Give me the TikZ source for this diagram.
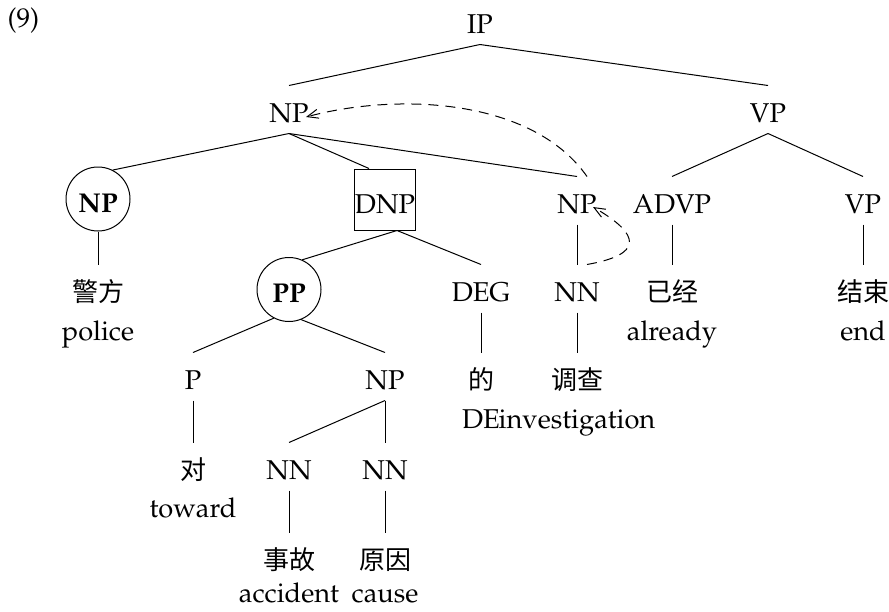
\documentclass[tikz,border=0pt]{standalone}
\usepackage{fontspec}
\newfontfamily\cjk{Noto Sans CJK SC}
\usepackage[T1]{fontenc}
\renewcommand{\rmdefault}{ppl}
\usetikzlibrary{positioning,arrows.meta}

\begin{document}
\begin{tikzpicture}[x=0.5pt,y=-0.5pt,inner sep=0pt,line width=0.5pt,
    font=\fontsize{13.6}{16}\selectfont]
  \tikzstyle{cat}=[anchor=base,text height=18pt,text depth=5.5pt]
  \tikzstyle{zh}=[cat,font=\fontsize{13}{16}\cjk]
  \tikzstyle{gloss}=[anchor=base]
  \tikzstyle{ring}=[draw,circle,minimum size=32pt,text height=13pt,text depth=0pt,
    font=\fontsize{13.6}{16}\selectfont\bfseries]
  \tikzstyle{box}=[draw,minimum width=30pt,minimum height=30.5pt,text height=13.5pt,text depth=0pt]
  \tikzstyle{trace}=[-{Straight Barb[length=5.5pt,width=4.5pt]},dash pattern=on 5pt off 3.5pt]
  \useasboundingbox (0,0) rectangle (889,611);

  \node[gloss,anchor=base west] (ex) at (7,27) {(9)};

  % categories
  \node[cat] (ip) at (480,33) {IP};
  \node[cat] (np) at (289,122) {NP};
  \node[cat] (vp) at (768,122) {VP};
  \node[ring] (np-a) at (98,199) {NP};
  \node[box] (dnp) at (385,199.5) {DNP};
  \node[cat] (np-b) at (577,213) {NP};
  \node[cat] (advp) at (672,213) {ADVP};
  \node[cat] (vp-a) at (863,213) {VP};
  \node[ring] (pp) at (289,289.5) {PP};
  \node[cat] (deg) at (481,301) {DEG};
  \node[cat] (nn) at (577,301) {NN};
  \node[cat] (p) at (193,389) {P};
  \node[cat] (np-c) at (385,389) {NP};
  \node[cat] (nn-a) at (289,479) {NN};
  \node[cat] (nn-b) at (385,479) {NN};

  % words
  \node[zh] (w-police) at (98,301) {警方};
  \node[zh] (w-already) at (672,301) {已经};
  \node[zh] (w-end) at (863,301) {结束};
  \node[zh] (w-de) at (481,389) {的};
  \node[zh] (w-invest) at (577,389) {调查};
  \node[zh] (w-toward) at (193,479) {对};
  \node[zh] (w-accident) at (289,569) {事故};
  \node[zh] (w-cause) at (385,569) {原因};

  % glosses
  \node[gloss] (g-police) at (98,340) {police};
  \node[gloss] (g-already) at (672,340) {already};
  \node[gloss] (g-end) at (863,340) {end};
  \node[gloss] (g-de) at (481,428) {DE};
  \node[gloss] (g-invest) at (577,428) {investigation};
  \node[gloss] (g-toward) at (193,517) {toward};
  \node[gloss] (g-accident) at (289,602) {accident};
  \node[gloss] (g-cause) at (385,602) {cause};

  % branches
  \draw (ip.south) -- (np.north);
  \draw (ip.south) -- (vp.north);
  \draw (np.south) -- (np-a.63);
  \draw (np.south) -- ([xshift=-8pt]dnp.north);
  \draw (np.south) -- (np-b.north);
  \draw (vp.south) -- (advp.north);
  \draw (vp.south) -- (vp-a.north);
  \draw (np-a.south) -- (w-police.north);
  \draw ([xshift=6pt]dnp.south) -- (pp.66);
  \draw ([xshift=6pt]dnp.south) -- (deg.north);
  \draw (np-b.south) -- (nn.north);
  \draw (advp.south) -- (w-already.north);
  \draw (vp-a.south) -- (w-end.north);
  \draw (pp.-118) -- (p.north);
  \draw (pp.-68) -- (np-c.north);
  \draw (deg.south) -- (w-de.north);
  \draw (nn.south) -- (w-invest.north);
  \draw (p.south) -- (w-toward.north);
  \draw (np-c.south) -- (nn-a.north);
  \draw (np-c.south) -- (nn-b.north);
  \draw (nn-a.south) -- (w-accident.north);
  \draw (nn-b.south) -- (w-cause.north);

  % movement
  \draw[trace] ([xshift=5pt]np-b.north) to[out=125,in=15,looseness=0.85] ([xshift=-1.5pt,yshift=2.5pt]np.base east);
  \draw[trace] ([xshift=5pt]nn.north) to[out=10,in=-30,looseness=2.5] ([xshift=-2pt,yshift=3pt]np-b.base east);
\end{tikzpicture}
\end{document}
